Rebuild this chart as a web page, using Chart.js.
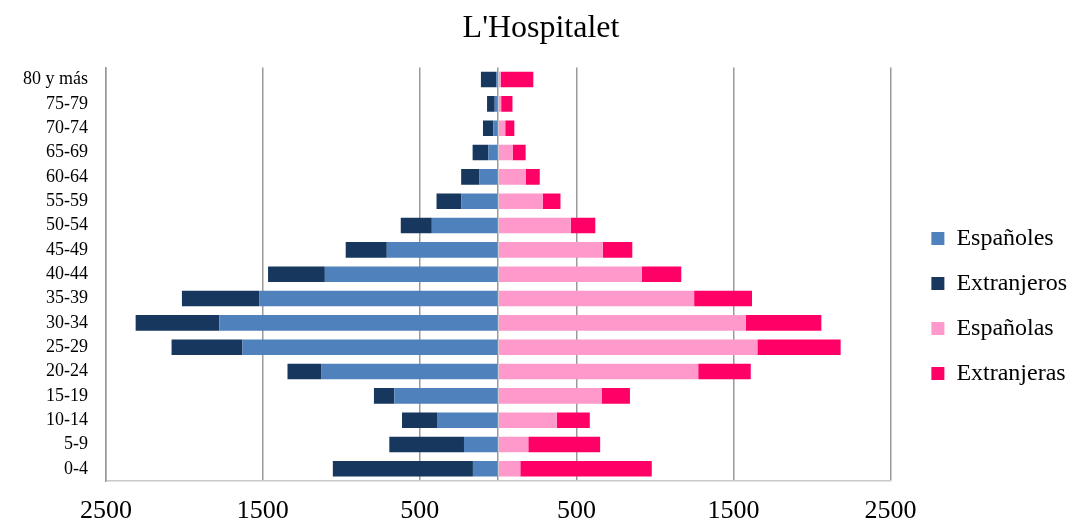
<!DOCTYPE html>
<html>
<head>
<meta charset="utf-8">
<script src="https://cdn.jsdelivr.net/npm/chart.js@4"></script>
<style>
  html, body { margin: 0; padding: 0; background: #fff; }
</style>
</head>
<body>
<canvas id="myChart" width="1077" height="522"></canvas>
<script>
// age groups, top to bottom
const ageGroups = ['80 y más', '75-79', '70-74', '65-69', '60-64', '55-59', '50-54', '45-49',
  '40-44', '35-39', '30-34', '25-29', '20-24', '15-19', '10-14', '5-9', '0-4']

// men (drawn to the left)
const espanoles = [13, 22, 31, 62, 119, 234, 423, 710, 1105, 1524, 1777, 1630, 1129, 662, 390, 218, 161]
const extranjeros = [97, 49, 66, 101, 117, 159, 198, 262, 362, 492, 534, 452, 214, 130, 223, 476, 893]

// women (drawn to the right)
const espanolas = [17, 19, 45, 92, 175, 284, 463, 667, 915, 1249, 1578, 1652, 1275, 659, 373, 192, 141]
const extranjeras = [207, 72, 58, 83, 90, 113, 156, 188, 252, 369, 482, 531, 335, 181, 211, 458, 838]

// x axis ticks (0 only for the centre line)
const xTicks = [-2500, -1500, -500, 0, 500, 1500, 2500]

const serif = 'Liberation Serif'

const canvas = document.getElementById('myChart')
const ctx = canvas.getContext('2d')

const myChart = new Chart(ctx, {
  type: 'bar',
  data: {
    labels: ageGroups,
    datasets: [
      { label: 'Españoles', data: espanoles.map(v => -v), backgroundColor: '#4f81bd', yAxisID: 'y' },
      { label: 'Extranjeros', data: extranjeros.map(v => -v), backgroundColor: '#17375e', yAxisID: 'y' },
      { label: 'Españolas', data: espanolas, backgroundColor: '#ff99cc', yAxisID: 'y' },
      { label: 'Extranjeras', data: extranjeras, backgroundColor: '#ff0066', yAxisID: 'y' }
    ]
  },
  options: {
    responsive: false,
    animation: false,
    indexAxis: 'y',
    barPercentage: 0.64,
    categoryPercentage: 1,
    layout: { padding: { left: 5, right: 0, top: 0, bottom: 0 } },
    plugins: {
      title: {
        display: true,
        text: "L'Hospitalet",
        color: '#000',
        font: { family: serif, size: 32, weight: 'normal' },
        padding: { top: 9, bottom: 20 }
      },
      legend: {
        position: 'right',
        // blank title only pushes the items down
        title: { display: true, text: ' ', font: { size: 10, lineHeight: 1 }, padding: { top: 40, bottom: 40 } },
        labels: {
          boxWidth: 13,
          boxHeight: 13,
          padding: 21,
          color: '#000',
          font: { family: serif, size: 24 }
        }
      },
      tooltip: { enabled: false }
    },
    scales: {
      x: {
        stacked: true,
        min: -2500,
        max: 2500,
        afterBuildTicks: scale => { scale.ticks = xTicks.map(v => ({ value: v })) },
        afterFit: scale => { scale.height = 41 },
        ticks: {
          callback: v => v === 0 ? '' : Math.abs(v),
          color: '#000',
          font: { family: serif, size: 26, lineHeight: '22px' },
          padding: 19,
          maxRotation: 0,
          autoSkip: false
        },
        grid: { color: '#9a9a9a', lineWidth: 1.5, drawTicks: false },
        border: { color: '#c8c8c8', width: 1.5 }
      },
      y: {
        stacked: true,
        grid: { display: false, drawTicks: false },
        border: { color: '#9a9a9a', width: 1.5 },
        ticks: {
          color: '#000',
          font: { family: serif, size: 18 },
          padding: 18,
          autoSkip: false
        }
      },
      // empty axis, only keeps the legend away from the plot
      gap: {
        type: 'category',
        position: 'right',
        grid: { display: false },
        border: { display: false },
        ticks: { display: false },
        afterFit: scale => { scale.width = 20 }
      }
    }
  }
})
</script>
</body>
</html>
